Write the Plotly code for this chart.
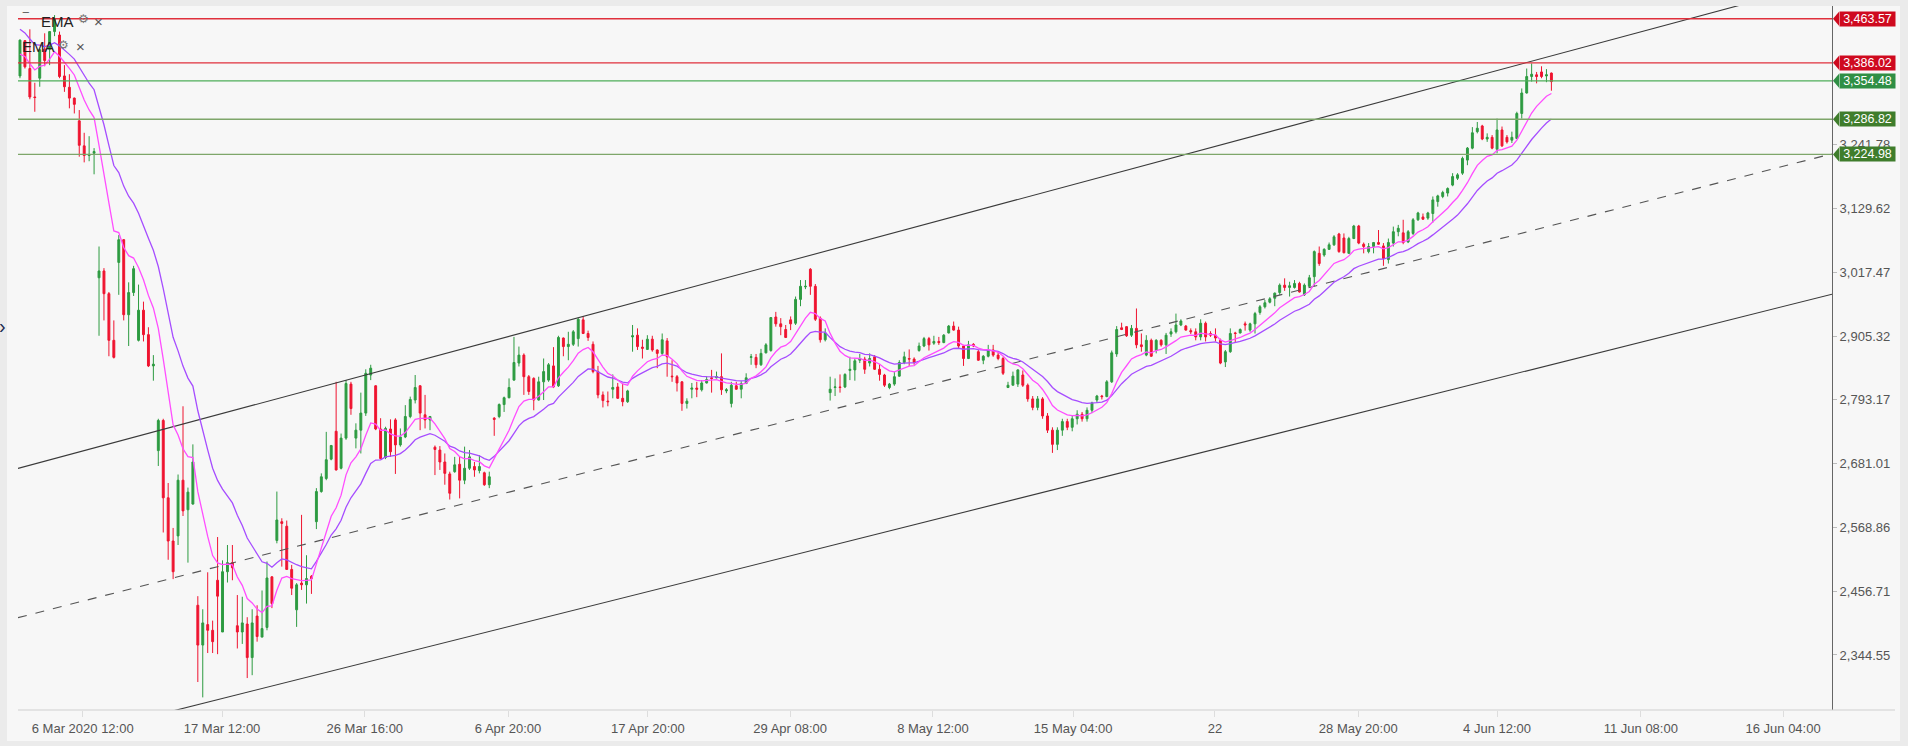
import plotly.graph_objects as go

# ---------------- data ----------------
opens = [
    3363, 3425, 3376, 3326, 3359, 3410, 3410, 3441, 3435, 3363,
    3343, 3324, 3284, 3240, 3223, 3227, 3008, 3020, 2980, 2898,
    3035, 3075, 2943, 2982, 2898, 2951, 2908, 2853, 2704, 2757,
    2621, 2545, 2554, 2652, 2600, 2610, 2432, 2362, 2398, 2388,
    2476, 2385, 2491, 2507, 2396, 2385, 2399, 2340, 2413, 2376,
    2393, 2482, 2546, 2579, 2571, 2495, 2424, 2471, 2468, 2483,
    2579, 2632, 2655, 2689, 2738, 2673, 2726, 2821, 2726, 2740,
    2770, 2837, 2818, 2742, 2692, 2742, 2758, 2714, 2728, 2764,
    2793, 2818, 2767, 2758, 2710, 2705, 2684, 2663, 2667, 2680,
    2652, 2673, 2676, 2669, 2665, 2644, 2761, 2764, 2785, 2797,
    2828, 2858, 2872, 2834, 2831, 2793, 2825, 2828, 2853, 2818,
    2902, 2887, 2891, 2901, 2934, 2910, 2891, 2843, 2802, 2791,
    2812, 2816, 2796, 2790, 2904, 2907, 2886, 2882, 2900, 2881,
    2875, 2897, 2835, 2834, 2825, 2787, 2812, 2814, 2811, 2823,
    2832, 2832, 2834, 2809, 2787, 2818, 2812, 2822, 2868, 2868,
    2855, 2876, 2880, 2939, 2927, 2917, 2934, 2928, 2970, 2992,
    3023, 2993, 2937, 2899, 2806, 2815, 2816, 2816, 2845, 2846,
    2863, 2865, 2858, 2869, 2847, 2837, 2815, 2821, 2835, 2859,
    2866, 2865, 2880, 2888, 2901, 2893, 2896, 2894, 2911, 2923,
    2916, 2888, 2866, 2891, 2878, 2863, 2870, 2881, 2872, 2866,
    2815, 2819, 2821, 2837, 2819, 2795, 2780, 2795, 2765, 2740,
    2715, 2740, 2755, 2745, 2760, 2768, 2760, 2775, 2793, 2800,
    2799, 2825, 2874, 2920, 2922, 2907, 2919, 2890, 2872, 2898,
    2880, 2898, 2890, 2909, 2913, 2925, 2923, 2915, 2913, 2904,
    2928, 2910, 2907, 2898, 2860, 2878, 2911, 2911, 2927, 2916,
    2927, 2947, 2957, 2965, 2972, 2982, 2995, 2991, 2991, 2998,
    2978, 2993, 3010, 3051, 3048, 3058, 3066, 3085, 3078, 3051,
    3077, 3099, 3067, 3054, 3063, 3070, 3064, 3040, 3069, 3089,
    3087, 3071, 3086, 3110, 3115, 3113, 3121, 3142, 3151, 3157,
    3171, 3183, 3192, 3215, 3236, 3265, 3275, 3252, 3255, 3234,
    3268, 3255, 3250, 3253, 3297, 3333, 3362, 3365, 3370, 3363, 3368,
]
highs = [
    3427, 3426, 3445, 3351, 3410, 3438, 3442, 3470, 3441, 3382,
    3366, 3325, 3303, 3263, 3257, 3236, 3063, 3025, 2983, 2933,
    3083, 3076, 3000, 3029, 2996, 2966, 2921, 2872, 2760, 2760,
    2647, 2568, 2662, 2782, 2639, 2715, 2448, 2425, 2490, 2405,
    2552, 2511, 2538, 2538, 2450, 2447, 2411, 2425, 2432, 2458,
    2509, 2483, 2632, 2585, 2581, 2503, 2471, 2591, 2520, 2485,
    2638, 2664, 2737, 2714, 2825, 2734, 2828, 2825, 2752, 2806,
    2847, 2855, 2819, 2761, 2746, 2759, 2761, 2743, 2784, 2799,
    2837, 2819, 2802, 2765, 2713, 2712, 2699, 2667, 2693, 2693,
    2711, 2705, 2684, 2696, 2667, 2667, 2763, 2787, 2799, 2831,
    2904, 2887, 2875, 2837, 2833, 2834, 2866, 2858, 2886, 2906,
    2903, 2913, 2916, 2937, 2940, 2915, 2896, 2853, 2808, 2808,
    2838, 2823, 2822, 2811, 2925, 2919, 2899, 2907, 2906, 2882,
    2910, 2902, 2863, 2837, 2826, 2796, 2823, 2825, 2828, 2835,
    2846, 2843, 2875, 2814, 2825, 2825, 2826, 2840, 2874, 2874,
    2883, 2893, 2939, 2948, 2937, 2925, 2940, 2975, 3004, 3004,
    3025, 2997, 2940, 2919, 2834, 2831, 2838, 2840, 2869, 2866,
    2874, 2869, 2875, 2872, 2856, 2839, 2823, 2843, 2863, 2878,
    2882, 2868, 2894, 2904, 2904, 2906, 2904, 2909, 2925, 2931,
    2922, 2890, 2897, 2893, 2881, 2872, 2890, 2890, 2878, 2869,
    2825, 2843, 2847, 2845, 2822, 2800, 2800, 2798, 2770, 2745,
    2745, 2760, 2760, 2765, 2775, 2772, 2780, 2790, 2802, 2802,
    2828, 2880, 2923, 2929, 2923, 2925, 2954, 2910, 2907, 2901,
    2900, 2900, 2911, 2919, 2945, 2935, 2925, 2919, 2919, 2935,
    2931, 2914, 2919, 2901, 2881, 2919, 2913, 2919, 2931, 2929,
    2948, 2960, 2969, 2974, 2982, 2998, 3007, 3001, 3004, 3001,
    2998, 3013, 3056, 3063, 3060, 3070, 3083, 3087, 3086, 3080,
    3101, 3101, 3070, 3069, 3071, 3092, 3069, 3077, 3098, 3101,
    3110, 3092, 3113, 3124, 3121, 3124, 3151, 3154, 3161, 3167,
    3192, 3192, 3221, 3238, 3273, 3282, 3277, 3262, 3259, 3288,
    3274, 3259, 3265, 3300, 3341, 3376, 3385, 3370, 3380, 3375, 3369,
]
lows = [
    3359, 3376, 3322, 3300, 3344, 3380, 3382, 3433, 3359, 3335,
    3306, 3297, 3221, 3211, 3213, 3190, 2906, 2933, 2870, 2866,
    2978, 2933, 2888, 2976, 2896, 2896, 2851, 2827, 2677, 2560,
    2512, 2478, 2538, 2589, 2507, 2609, 2297, 2270, 2348, 2348,
    2346, 2385, 2472, 2476, 2356, 2364, 2304, 2309, 2368, 2376,
    2388, 2427, 2541, 2500, 2495, 2450, 2394, 2459, 2435, 2452,
    2566, 2630, 2652, 2687, 2669, 2671, 2723, 2767, 2708, 2699,
    2765, 2828, 2740, 2689, 2689, 2693, 2663, 2711, 2726, 2761,
    2787, 2740, 2743, 2740, 2661, 2670, 2644, 2618, 2665, 2620,
    2645, 2670, 2658, 2664, 2642, 2638, 2730, 2761, 2772, 2796,
    2827, 2852, 2802, 2802, 2775, 2792, 2793, 2825, 2814, 2816,
    2870, 2863, 2888, 2887, 2909, 2897, 2840, 2796, 2780, 2782,
    2796, 2795, 2782, 2788, 2878, 2881, 2866, 2881, 2878, 2849,
    2872, 2834, 2825, 2808, 2774, 2778, 2796, 2798, 2808, 2822,
    2806, 2831, 2802, 2805, 2780, 2811, 2796, 2821, 2855, 2849,
    2853, 2875, 2878, 2922, 2907, 2902, 2916, 2925, 2958, 2988,
    2978, 2932, 2894, 2896, 2792, 2800, 2806, 2814, 2828, 2827,
    2858, 2839, 2852, 2846, 2827, 2816, 2812, 2818, 2834, 2856,
    2853, 2855, 2878, 2886, 2880, 2890, 2890, 2893, 2910, 2915,
    2884, 2853, 2865, 2886, 2862, 2856, 2868, 2869, 2863, 2837,
    2814, 2819, 2816, 2816, 2790, 2775, 2775, 2760, 2735, 2700,
    2705, 2730, 2740, 2738, 2750, 2755, 2755, 2770, 2788, 2794,
    2798, 2823, 2869, 2916, 2904, 2904, 2884, 2878, 2870, 2869,
    2875, 2887, 2874, 2904, 2910, 2923, 2915, 2909, 2898, 2898,
    2896, 2904, 2896, 2856, 2851, 2876, 2894, 2910, 2915, 2913,
    2910, 2943, 2954, 2963, 2958, 2978, 2985, 2975, 2989, 2982,
    2976, 2992, 2993, 3029, 3045, 3057, 3064, 3052, 3051, 3050,
    3076, 3067, 3051, 3051, 3051, 3066, 3029, 3033, 3063, 3081,
    3067, 3069, 3083, 3108, 3110, 3110, 3105, 3133, 3148, 3151,
    3169, 3180, 3189, 3206, 3234, 3262, 3250, 3247, 3234, 3227,
    3238, 3244, 3245, 3252, 3288, 3332, 3353, 3350, 3359, 3352, 3337,
]
closes = [
    3426, 3379, 3326, 3325, 3409, 3390, 3441, 3463, 3362, 3344,
    3324, 3313, 3241, 3223, 3225, 3230, 3020, 2980, 2898, 2868,
    3075, 2943, 2982, 3024, 2951, 2908, 2853, 2856, 2757, 2621,
    2545, 2491, 2652, 2598, 2631, 2684, 2362, 2401, 2388, 2368,
    2448, 2491, 2507, 2498, 2385, 2401, 2340, 2401, 2377, 2391,
    2480, 2435, 2582, 2576, 2495, 2462, 2468, 2468, 2479, 2479,
    2632, 2658, 2688, 2713, 2670, 2726, 2822, 2778, 2740, 2770,
    2840, 2849, 2742, 2690, 2743, 2702, 2714, 2728, 2764, 2794,
    2815, 2770, 2758, 2764, 2706, 2684, 2664, 2629, 2679, 2652,
    2673, 2693, 2670, 2676, 2644, 2658, 2759, 2785, 2797, 2815,
    2859, 2872, 2834, 2808, 2793, 2825, 2843, 2855, 2816, 2903,
    2887, 2891, 2913, 2935, 2910, 2903, 2843, 2802, 2792, 2790,
    2815, 2796, 2790, 2809, 2906, 2887, 2884, 2900, 2881, 2875,
    2899, 2869, 2834, 2823, 2787, 2791, 2814, 2812, 2823, 2829,
    2831, 2834, 2811, 2811, 2819, 2812, 2822, 2832, 2869, 2855,
    2875, 2890, 2938, 2927, 2922, 2903, 2927, 2970, 2993, 2993,
    2993, 2935, 2899, 2911, 2812, 2816, 2815, 2838, 2847, 2862,
    2866, 2847, 2866, 2847, 2838, 2819, 2821, 2834, 2859, 2869,
    2865, 2859, 2888, 2901, 2890, 2896, 2894, 2907, 2923, 2916,
    2888, 2866, 2890, 2888, 2863, 2870, 2881, 2872, 2866, 2840,
    2819, 2835, 2846, 2819, 2795, 2780, 2795, 2765, 2740, 2715,
    2740, 2755, 2745, 2760, 2768, 2760, 2775, 2788, 2800, 2799,
    2825, 2876, 2917, 2917, 2906, 2919, 2890, 2887, 2898, 2870,
    2898, 2890, 2907, 2913, 2925, 2932, 2916, 2913, 2904, 2928,
    2904, 2907, 2902, 2858, 2878, 2910, 2910, 2917, 2925, 2927,
    2945, 2957, 2964, 2971, 2981, 2995, 2991, 2994, 2998, 2983,
    2995, 3008, 3054, 3033, 3058, 3066, 3080, 3054, 3052, 3077,
    3099, 3069, 3063, 3063, 3070, 3067, 3042, 3070, 3089, 3095,
    3070, 3089, 3110, 3122, 3111, 3122, 3145, 3152, 3158, 3165,
    3186, 3189, 3218, 3236, 3263, 3271, 3252, 3255, 3236, 3268,
    3240, 3247, 3255, 3297, 3333, 3362, 3366, 3362, 3362, 3365, 3353,
]

# EMA settings (periods) and the EMA values seen at the first bar
ema_fast_period, ema_fast_start = 10, 3396
ema_slow_period, ema_slow_start = 20, 3447

# Tick labels of the time axis and the bar index they sit at
x_tick_labels = ["6 Mar 2020 12:00", "17 Mar 12:00", "26 Mar 16:00", "6 Apr 20:00",
                 "17 Apr 20:00", "29 Apr 08:00", "8 May 12:00", "15 May 04:00", "22",
                 "28 May 20:00", "4 Jun 12:00", "11 Jun 08:00", "16 Jun 04:00"]
x_tick_index = [12.7, 40.9, 69.8, 98.8, 127.1, 155.9, 184.8, 213.2, 241.9,
                270.9, 299.0, 328.1, 356.9]

# Price axis ticks
y_tick_values = [2344.55, 2456.71, 2568.86, 2681.01, 2793.17, 2905.32, 3017.47, 3129.62, 3241.78]

# Horizontal levels (price, line colour, tag colour)
level_prices = [3463.57, 3386.02, 3354.48, 3286.82, 3224.98]
level_line_colors = ["#e0303c", "#e0303c", "#4fae5a", "#7ea66a", "#7ea66a"]
level_tag_colors = ["#cf0a1f", "#cf0a1f", "#2f8f45", "#3f7d2c", "#3f7d2c"]

# Channel trend lines: two anchor points (bar index, price) each
channel_upper = [(48.6, 2787.2), (251.0, 3260.3)]
channel_middle = [(0.7, 2412.6), (366.4, 3225.1)]
channel_lower = [(88.1, 2370.9), (366.7, 2978.9)]

# ---------------- figure ----------------
W, H = 1908, 746
ML, MR, MT, MB = 18, 76, 6, 36
PW, PH = W - ML - MR, H - MT - MB
X_RANGE = [-0.4, 366.8]
Y_RANGE = [2247.8, 3486.0]

GREEN = "#2d9b41"
RED = "#ef1430"

idx = list(range(len(closes)))


def ema(values, period, start):
    a = 2.0 / (period + 1)
    out, prev = [], start
    for v in values:
        prev = a * v + (1 - a) * prev
        out.append(prev)
    return out


def px_x(p):
    return (p - ML) / PW


def px_y(p):
    return (H - MB - p) / PH


fig = go.Figure()

# channel lines
for pts, dash, color in [(channel_upper, "solid", "#3a3a3a"),
                         (channel_middle, "dash", "#555555"),
                         (channel_lower, "solid", "#3a3a3a")]:
    (x0, y0), (x1, y1) = pts
    slope = (y1 - y0) / (x1 - x0)
    xs = [X_RANGE[0], X_RANGE[1]]
    ys = [y0 + slope * (x - x0) for x in xs]
    fig.add_trace(go.Scatter(x=xs, y=ys, mode="lines",
                             line=dict(color=color, width=1.1, dash=dash),
                             hoverinfo="skip", showlegend=False))

fig.add_trace(go.Candlestick(
    x=idx, open=opens, high=highs, low=lows, close=closes,
    increasing=dict(line=dict(color=GREEN, width=1), fillcolor=GREEN),
    decreasing=dict(line=dict(color=RED, width=1), fillcolor=RED),
    whiskerwidth=0, showlegend=False, hoverinfo="skip"))

fig.add_trace(go.Scatter(x=idx, y=ema(closes, ema_slow_period, ema_slow_start),
                         mode="lines", line=dict(color="#a64dff", width=1.3),
                         hoverinfo="skip", showlegend=False))
fig.add_trace(go.Scatter(x=idx, y=ema(closes, ema_fast_period, ema_fast_start),
                         mode="lines", line=dict(color="#ff4dff", width=1.3),
                         hoverinfo="skip", showlegend=False))

shapes = []
# panel background
shapes.append(dict(type="rect", xref="paper", yref="paper", layer="below",
                   x0=px_x(7), x1=px_x(1900), y0=px_y(741), y1=px_y(6),
                   fillcolor="#f7f7f7", line=dict(width=0)))
# x axis base line extended under the price labels
shapes.append(dict(type="line", xref="paper", yref="paper",
                   x0=0, x1=px_x(1895), y0=0, y1=0,
                   line=dict(color="#cfcfcf", width=1)))

annotations = []
for price, lc, tc in zip(level_prices, level_line_colors, level_tag_colors):
    shapes.append(dict(type="line", xref="paper", yref="y", x0=0, x1=1,
                       y0=price, y1=price, line=dict(color=lc, width=1.3)))
    shapes.append(dict(type="path", xref="paper", yref="y",
                       xsizemode="pixel", ysizemode="pixel",
                       xanchor=1, yanchor=price,
                       path="M 1 0 L 7 7 L 7 -7 Z",
                       fillcolor=tc, line=dict(width=0)))
    annotations.append(dict(xref="paper", yref="y", x=1, y=price,
                            xanchor="left", yanchor="middle", xshift=7,
                            text=f"{price:,.2f}", showarrow=False,
                            font=dict(color="white", size=12.5,
                                      family="Liberation Sans, Arial"),
                            bgcolor=tc, width=55, height=14, borderpad=0,
                            align="center"))

# indicator labels at the top-left
lbl_font = dict(family="Liberation Sans, Arial", size=15, color="#222222")


def label(x, y, text, font, xanchor="center"):
    return dict(xref="paper", yref="paper", x=px_x(x), y=px_y(y), text=text,
                xanchor=xanchor, yanchor="middle", showarrow=False, font=font)


annotations += [
    label(26, 13, "−", dict(size=13, color="#666666")),
    label(39, 21, "EMA", lbl_font, "left"),
    label(83, 19, "⚙", dict(size=12, color="#777777", family="DejaVu Sans")),
    label(98, 21, "×", dict(size=15, color="#555555")),
    label(20, 47, "EMA", lbl_font, "left"),
    label(63, 45, "⚙", dict(size=12, color="#777777", family="DejaVu Sans")),
    label(80, 47, "×", dict(size=15, color="#555555")),
    label(3, 326, "›", dict(size=20, color="#1d2d50")),
]

fig.update_layout(
    width=W, height=H,
    margin=dict(l=ML, r=MR, t=MT, b=MB),
    paper_bgcolor="#ebebeb", plot_bgcolor="#f7f7f7",
    showlegend=False, boxgap=0.45,
    shapes=shapes, annotations=annotations,
    font=dict(family="Liberation Sans, Arial", color="#555555"),
)
fig.update_xaxes(range=X_RANGE, rangeslider_visible=False, showgrid=False,
                 zeroline=False, showline=False,
                 tickmode="array", tickvals=x_tick_index, ticktext=x_tick_labels,
                 ticks="outside", ticklen=6, tickcolor="#dddddd",
                 tickfont=dict(size=13, color="#555555"))
fig.update_yaxes(range=Y_RANGE, side="right", showgrid=False, zeroline=False,
                 showline=True, linecolor="#666666", linewidth=1,
                 tickmode="array", tickvals=y_tick_values,
                 ticktext=[f"{v:,.2f}" for v in y_tick_values],
                 ticks="outside", ticklen=4, tickcolor="#bbbbbb",
                 tickfont=dict(size=13, color="#555555"))

fig.write_html("out.html",
               config={"displayModeBar": False},
               post_script="document.body.style.margin='0';"
                           "document.body.style.overflow='hidden';")
